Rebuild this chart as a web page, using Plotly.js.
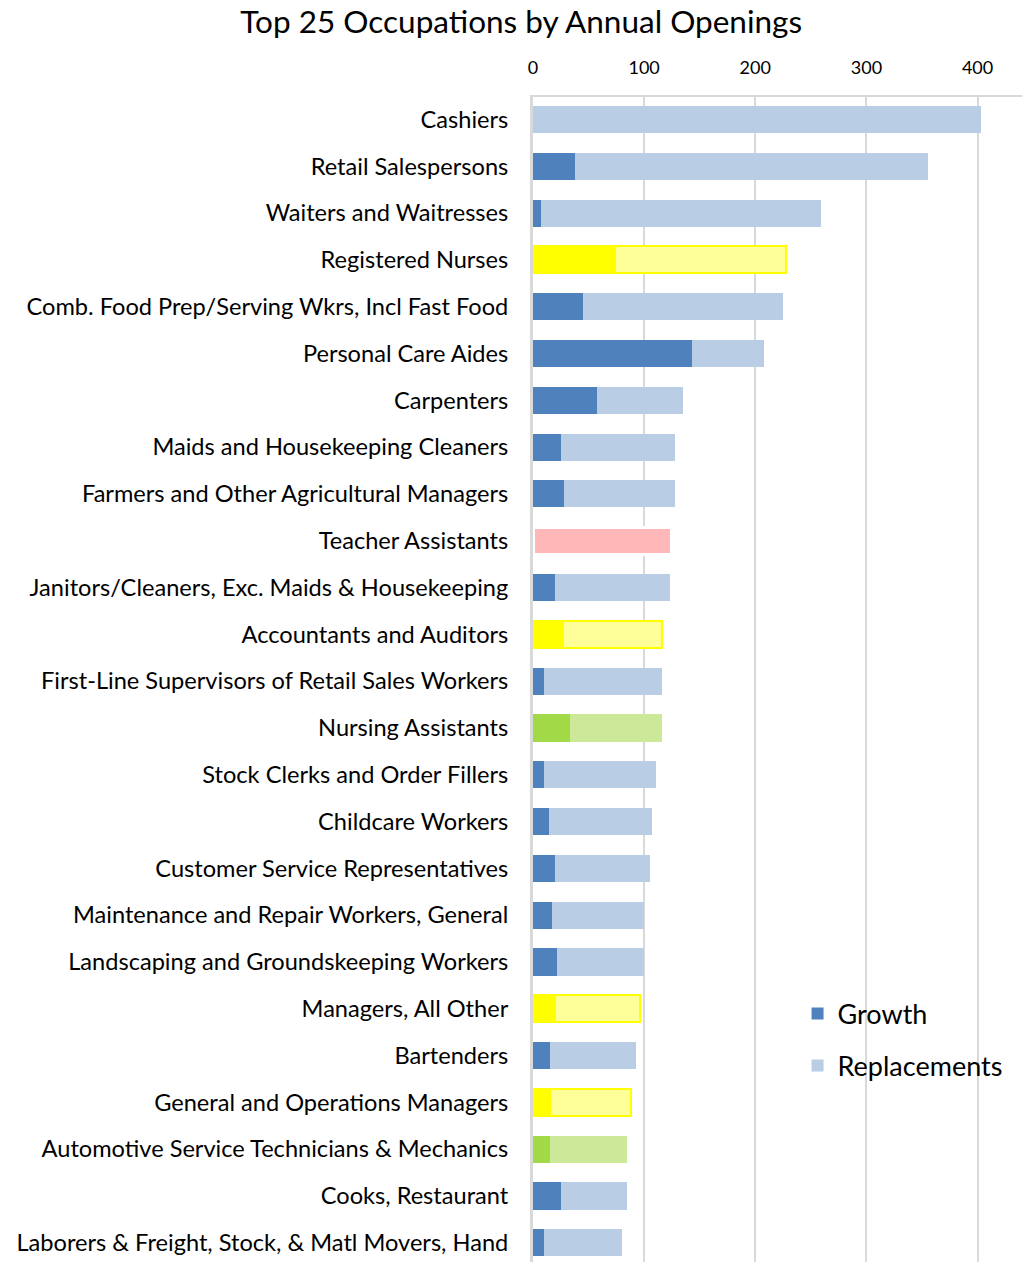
<!DOCTYPE html>
<html>
<head>
<meta charset="utf-8">
<script src="https://cdn.plot.ly/plotly-3.0.1.min.js"></script>
<style>html,body{margin:0;padding:0;background:#fff;}#chart{width:1024px;height:1262px;}</style>
</head>
<body>
<div id="chart"></div>
<script>
const occupations = [
  "Cashiers",
  "Retail Salespersons",
  "Waiters and Waitresses",
  "Registered Nurses",
  "Comb. Food Prep/Serving Wkrs, Incl Fast Food",
  "Personal Care Aides",
  "Carpenters",
  "Maids and Housekeeping Cleaners",
  "Farmers and Other Agricultural Managers",
  "Teacher Assistants",
  "Janitors/Cleaners, Exc. Maids & Housekeeping",
  "Accountants and Auditors",
  "First-Line Supervisors of Retail Sales Workers",
  "Nursing Assistants",
  "Stock Clerks and Order Fillers",
  "Childcare Workers",
  "Customer Service Representatives",
  "Maintenance and Repair Workers, General",
  "Landscaping and Groundskeeping Workers",
  "Managers, All Other",
  "Bartenders",
  "General and Operations Managers",
  "Automotive Service Technicians & Mechanics",
  "Cooks, Restaurant",
  "Laborers & Freight, Stock, & Matl Movers, Hand"
];
const growth = [0, 38, 7, 74, 45, 143, 58, 25, 28, 0, 20, 27, 10, 33, 10, 14, 20, 17, 22, 20, 15, 15, 15, 25, 10];
const replacements = [403, 317, 252, 154, 180, 65, 77, 103, 100, 125, 103, 89, 106, 83, 101, 93, 85, 83, 78, 76, 78, 73, 70, 60, 70];
// highlight group of each row: "" normal, "yellow", "green", "pink"
const highlight = ["", "", "", "yellow", "", "", "", "", "", "pink", "", "yellow", "", "green", "", "", "", "", "", "yellow", "", "yellow", "green", "", ""];
const xTicks = [0, 100, 200, 300, 400];

const growthColors = {"": "#4F81BD", yellow: "#FFFF00", green: "#A2D947", pink: "#FFB7B7"};
const replColors = {"": "#B9CDE5", yellow: "#FFFF99", green: "#CCE899", pink: "#FFB7B7"};
const lineColors = {"": "rgba(0,0,0,0)", yellow: "#FFFF00", green: "rgba(0,0,0,0)", pink: "#FFFFFF"};
const lineWidths = {"": 0, yellow: 2, green: 0, pink: 3};

const FONT = "Lato, 'Open Sans', sans-serif";

const traces = [
  {
    type: "bar", orientation: "h", name: "Growth", legendgroup: "g",
    y: occupations, x: growth,
    marker: {
      color: highlight.map(h => growthColors[h]),
      line: {color: highlight.map(h => lineColors[h]), width: highlight.map(h => lineWidths[h])}
    },
    hoverinfo: "x+y+name"
  },
  {
    type: "bar", orientation: "h", name: "Replacements", legendgroup: "r",
    y: occupations, x: replacements,
    marker: {
      color: highlight.map(h => replColors[h]),
      line: {color: highlight.map(h => lineColors[h]), width: highlight.map(h => lineWidths[h])}
    },
    hoverinfo: "x+y+name"
  }
];

const layout = {
  width: 1024, height: 1262,
  margin: {l: 533, r: 2, t: 97, b: 0, pad: 0},
  paper_bgcolor: "#ffffff", plot_bgcolor: "#ffffff",
  barmode: "stack",
  bargap: 0.42,
  font: {family: FONT, color: "#000000"},
  title: {
    text: "Top 25 Occupations by Annual Openings",
    font: {family: FONT, size: 31.5, color: "#000000"},
    xref: "container", x: 0.509, xanchor: "center",
    yref: "container", y: 1 - 22/1262, yanchor: "middle"
  },
  xaxis: {
    side: "top",
    range: [0, 440],
    tickvals: xTicks,
    ticktext: xTicks.map(String),
    tickfont: {family: FONT, size: 18, color: "#000000"},
    ticks: "",
    ticklabelstandoff: 14,
    showgrid: true, gridcolor: "#D9D9D9", gridwidth: 2,
    zeroline: false,
    showline: true, linecolor: "#D9D9D9", linewidth: 2,
    fixedrange: true
  },
  yaxis: {
    type: "category",
    range: [24.41, -0.48],
    tickfont: {family: FONT, size: 23.6, color: "#000000"},
    ticks: "",
    ticklabelstandoff: 17,
    showgrid: false,
    zeroline: false,
    showline: true, linecolor: "#D9D9D9", linewidth: 3,
    automargin: false,
    fixedrange: true
  },
  legend: {
    x: 0.541, xanchor: "left",
    y: 0.234, yanchor: "top",
    font: {family: FONT, size: 27, color: "#000000"},
    traceorder: "grouped",
    tracegroupgap: 14,
    bgcolor: "rgba(255,255,255,0)",
    itemclick: false, itemdoubleclick: false
  },
  showlegend: true
};

Plotly.newPlot("chart", traces, layout, {displayModeBar: false, staticPlot: true});
</script>
</body>
</html>
